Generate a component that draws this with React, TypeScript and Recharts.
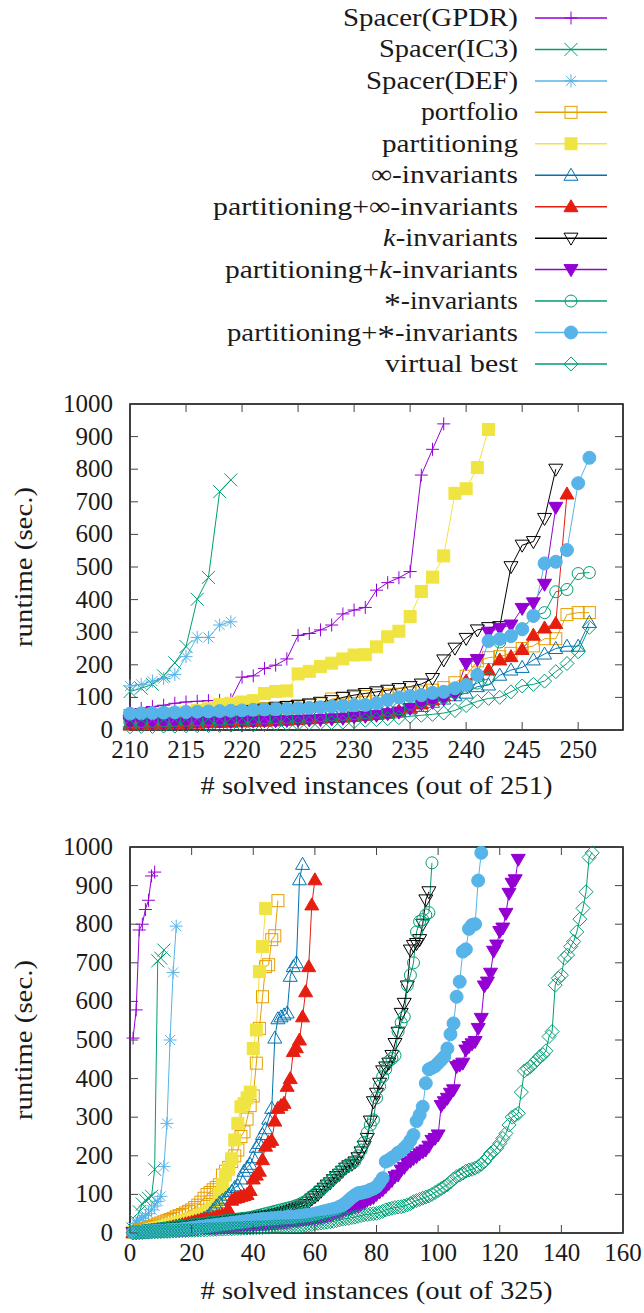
import React from 'react';
import { LineChart, Line, XAxis, YAxis, ReferenceArea } from 'recharts';

// gnuplot-ish look: serif text, inward ticks on all four sides, framed plot
const FONT = 'Liberation Serif, serif';
const TEXT = '#1a1a1a';
const TICK = '#444';

// ---- top plot (# solved out of 251), values start at x = 210 ----
const TOP_START = 210;
const TOP_X_TICKS = [210, 215, 220, 225, 230, 235, 240, 245, 250];
const Y_TICKS = [0, 100, 200, 300, 400, 500, 600, 700, 800, 900, 1000];

const gpdrTop = [62, 66, 72, 76, 82, 86, 88, 90, 91, 93, 162, 166, 189, 199, 218, 290, 296, 307, 322, 356, 368, 376, 429, 452, 467, 486, 782, 861, 939];
const ic3Top = [118, 128, 140, 166, 206, 256, 401, 468, 731, 767];
const defTop = [135, 140, 150, 158, 170, 225, 284, 284, 322, 332];
const portfolioTop = [
  38, 42, 45, 48, 50, 52, 54, 56, 58, 60,
  62, 64, 66, 68, 70, 72, 75, 80, 95, 98,
  100, 103, 106, 108, 110, 113, 117, 122, 130, 145,
  165, 212, 222, 225, 235, 250, 258, 280, 280, 354, 360, 360,
];
const partTop = [
  42, 44, 46, 48, 50, 55, 60, 65, 78, 82,
  86, 90, 112, 118, 120, 172, 180, 195, 205, 218,
  230, 231, 255, 286, 303, 348, 425, 469, 534, 726,
  740, 805, 922,
];
const infTop = [
  18, 19, 20, 21, 22, 23, 24, 25, 26, 27,
  28, 29, 30, 32, 34, 36, 38, 40, 42, 44,
  46, 48, 50, 53, 58, 65, 72, 85, 95, 105,
  113, 133, 138, 168, 184, 192, 215, 233, 250, 257, 257, 330,
];
const partInfTop = [
  15, 16, 17, 18, 19, 20, 21, 22, 23, 24,
  25, 26, 27, 28, 30, 32, 34, 36, 38, 40,
  42, 45, 48, 52, 58, 68, 80, 92, 105, 125,
  150, 170, 184, 215, 225, 247, 291, 313, 327, 724,
];
const kTop = [
  30, 32, 34, 36, 38, 40, 43, 46, 49, 52,
  56, 60, 64, 68, 72, 76, 80, 85, 90, 100,
  107, 112, 117, 122, 127, 133, 141, 158, 215, 251,
  281, 307, 314, 317, 501, 567, 578, 649, 800,
];
const partKTop = [
  22, 22, 23, 23, 24, 24, 25, 25, 26, 26,
  27, 27, 28, 28, 29, 30, 31, 32, 34, 36,
  40, 42, 45, 50, 55, 66, 80, 85, 95, 110,
  204, 216, 300, 312, 322, 373, 390, 447, 683,
];
const starTop = [
  25, 26, 27, 28, 29, 30, 31, 32, 33, 34,
  35, 36, 37, 38, 39, 40, 42, 44, 46, 48,
  50, 53, 56, 60, 65, 80, 88, 95, 100, 115,
  130, 144, 158, 270, 290, 310, 350, 360, 424, 431, 480, 483,
];
const partStarTop = [
  50, 51, 52, 53, 54, 55, 56, 57, 58, 59,
  60, 62, 63, 64, 65, 67, 68, 70, 72, 74,
  76, 77, 82, 92, 100, 104, 107, 114, 117, 128,
  138, 169, 273, 279, 288, 309, 350, 511, 516, 552, 757, 835,
];
const bestTop = [
  10, 11, 11, 12, 12, 13, 13, 14, 14, 15,
  15, 16, 17, 18, 19, 20, 21, 22, 23, 24,
  26, 30, 32, 35, 38, 42, 45, 48, 52, 60,
  75, 88, 97, 100, 117, 135, 140, 150, 179, 204, 240, 315,
];

// ---- bottom plot (# solved out of 325), values start at x = 1 ----
const BOT_START = 1;
const BOT_X_TICKS = [0, 20, 40, 60, 80, 100, 120, 140, 160];

const gpdrBot = [505, 578, 785, 800, 838, 862, 925, 935];
const ic3Bot = [10, 30, 55, 75, 85, 90, 95, 165, 705, 712, 733];
const defBot = [15, 25, 32, 38, 45, 50, 60, 70, 82, 95, 172, 284, 500, 675, 795];
const portfolioBot = [
  2, 4, 6, 9, 11, 14, 17, 20, 23, 26,
  29, 32, 35, 38, 42, 45, 48, 52, 56, 60,
  66, 72, 80, 90, 100, 105, 112, 118, 125, 150,
  160, 170, 185, 200, 215, 250, 262, 295, 330, 355,
  440, 530, 612, 690, 695, 760, 770, 861,
];
const partBot = [
  1, 2, 3, 4, 5, 7, 9, 11, 13, 15,
  17, 19, 21, 23, 25, 27, 29, 31, 34, 37,
  40, 43, 46, 50, 54, 58, 63, 70, 100, 125,
  150, 165, 192, 241, 284, 327, 335, 350, 365, 478,
  526, 677, 742, 841,
];
const infBot = [
  1, 2, 3, 4, 5, 6, 7, 8, 9, 10,
  11, 12, 13, 14, 15, 17, 19, 21, 23, 25,
  28, 31, 34, 38, 42, 50, 60, 70, 78, 85,
  90, 98, 108, 118, 122, 140, 160, 170, 178, 195,
  222, 232, 255, 270, 295, 323, 505, 555, 560, 565,
  570, 665, 690, 700, 915, 955,
];
const partInfBot = [
  1, 1, 2, 2, 3, 4, 5, 6, 7, 8,
  10, 12, 14, 16, 18, 20, 22, 24, 26, 28,
  30, 32, 34, 35, 36, 38, 40, 42, 45, 47,
  50, 60, 85, 90, 92, 95, 97, 100, 110, 140,
  150, 160, 190, 225, 235, 240, 290, 323, 330, 336,
  380, 400, 470, 480, 500, 560, 625, 690, 850, 915,
];
const kBot = [
  1, 2, 3, 4, 5, 6, 7, 8, 9, 10,
  11, 12, 13, 14, 15, 16, 17, 18, 19, 20,
  21, 22, 23, 24, 25, 26, 27, 28, 29, 30,
  31, 32, 33, 34, 35, 36, 37, 38, 39, 40,
  41, 42, 43, 44, 45, 46, 48, 50, 52, 54,
  56, 58, 61, 64, 67, 70, 74, 80, 88, 94,
  100, 108, 116, 124, 130, 138, 146, 152, 160, 168,
  174, 178, 184, 195, 210, 225, 245, 290, 340, 362,
  388, 420, 430, 440, 460, 491, 520, 569, 595, 640,
  733, 745, 750, 760, 800, 863, 884,
];
const starBot = [
  2, 3, 4, 5, 6, 7, 8, 9, 10, 11,
  12, 13, 14, 15, 16, 17, 18, 19, 20, 21,
  22, 23, 24, 25, 26, 27, 28, 29, 30, 31,
  32, 33, 34, 35, 36, 37, 38, 39, 40, 42,
  44, 46, 48, 50, 52, 54, 56, 58, 60, 62,
  64, 66, 68, 71, 74, 78, 82, 88, 95, 100,
  108, 112, 120, 128, 135, 142, 150, 158, 165, 172,
  176, 180, 186, 200, 215, 235, 260, 280, 293, 350,
  380, 405, 425, 445, 452, 460, 522, 545, 560, 642,
  668, 700, 780, 807, 812, 824, 830, 959,
];
const partStarBot = [
  1, 2, 2, 3, 3, 4, 4, 5, 5, 6,
  6, 7, 7, 8, 8, 9, 10, 11, 12, 13,
  14, 15, 16, 17, 18, 19, 20, 21, 22, 23,
  24, 25, 26, 27, 28, 29, 30, 31, 32, 33,
  34, 35, 36, 36, 37, 38, 38, 39, 40, 40,
  41, 42, 42, 43, 44, 45, 46, 47, 48, 50,
  52, 54, 56, 58, 60, 62, 64, 68, 72, 78,
  85, 92, 98, 103, 104, 106, 108, 112, 115, 120,
  130, 142, 185, 189, 195, 200, 208, 212, 220, 228,
  240, 254, 290, 306, 327, 388, 424, 428, 432, 440,
  448, 457, 478, 515, 543, 612, 651, 729, 735, 788,
  798, 800, 913, 985,
];
const partKBot = [
  1, 1, 2, 2, 3, 3, 4, 4, 5, 5,
  6, 6, 7, 7, 8, 8, 9, 9, 10, 10,
  11, 11, 12, 12, 13, 13, 14, 14, 15, 15,
  16, 16, 17, 17, 18, 18, 19, 19, 20, 20,
  21, 21, 22, 22, 23, 24, 25, 26, 27, 28,
  29, 30, 31, 32, 33, 34, 35, 36, 37, 38,
  39, 40, 42, 44, 46, 50, 52, 54, 56, 60,
  62, 65, 68, 70, 74, 78, 85, 88, 92, 100,
  106, 112, 120, 128, 136, 146, 150, 163, 170, 180,
  186, 193, 198, 205, 210, 215, 225, 240, 245, 254,
  330, 340, 349, 362, 371, 431, 435, 440, 474, 483,
  490, 496, 530, 556, 640, 650, 673, 730, 746, 781,
  790, 828, 880, 906, 915, 968,
];
const bestBot = [
  0.5, 1, 1, 1.5, 2, 2, 2.5, 3, 3, 3.5,
  4, 4, 4.5, 5, 5, 5.5, 6, 6, 6.5, 7,
  7, 7.5, 8, 8, 8.5, 9, 9, 9.5, 10, 10,
  10.5, 11, 11, 11.5, 12, 12, 12.5, 13, 13, 13.5,
  14, 14, 14.5, 15, 15, 15.5, 16, 16, 16.5, 17,
  17, 17.5, 18, 18, 18, 19, 20, 21, 22, 24,
  25, 26, 27, 28, 29, 30, 32, 34, 36, 37,
  38, 40, 41, 43, 45, 47, 48, 49, 50, 51,
  53, 56, 60, 62, 64, 66, 67, 68, 70, 73,
  76, 81, 84, 87, 90, 93, 96, 100, 105, 110,
  115, 120, 125, 132, 140, 146, 150, 155, 160, 163,
  165, 168, 172, 178, 185, 195, 206, 212, 220, 232,
  245, 258, 280, 300, 305, 310, 365, 420, 425, 431,
  440, 448, 457, 462, 472, 509, 522, 642, 660, 668,
  712, 720, 742, 755, 780, 813, 841, 884, 973, 985,
];

// label pieces: [text, style] where style 'i' = italic k, 'a' = centred asterisk
type Part = [string, ('i' | 'a')?];

const SERIES: { key: string; label: Part[]; color: string; marker: string; top: number[]; bot: number[] }[] = [
  { key: 'gpdr', label: [['Spacer(GPDR)']], color: '#9400d3', marker: 'plus', top: gpdrTop, bot: gpdrBot },
  { key: 'ic3', label: [['Spacer(IC3)']], color: '#009e73', marker: 'cross', top: ic3Top, bot: ic3Bot },
  { key: 'def', label: [['Spacer(DEF)']], color: '#56b4e9', marker: 'star', top: defTop, bot: defBot },
  { key: 'portfolio', label: [['portfolio']], color: '#e69f00', marker: 'square', top: portfolioTop, bot: portfolioBot },
  { key: 'part', label: [['partitioning']], color: '#f0e442', marker: 'squareFilled', top: partTop, bot: partBot },
  { key: 'inf', label: [['∞-invariants']], color: '#0072b2', marker: 'triUp', top: infTop, bot: infBot },
  { key: 'partInf', label: [['partitioning+∞-invariants']], color: '#e51e10', marker: 'triUpFilled', top: partInfTop, bot: partInfBot },
  { key: 'k', label: [['k', 'i'], ['-invariants']], color: '#000000', marker: 'triDown', top: kTop, bot: kBot },
  { key: 'partK', label: [['partitioning+'], ['k', 'i'], ['-invariants']], color: '#9400d3', marker: 'triDownFilled', top: partKTop, bot: partKBot },
  { key: 'star', label: [['*', 'a'], ['-invariants']], color: '#009e73', marker: 'circle', top: starTop, bot: starBot },
  { key: 'partStar', label: [['partitioning+'], ['*', 'a'], ['-invariants']], color: '#56b4e9', marker: 'circleFilled', top: partStarTop, bot: partStarBot },
  { key: 'best', label: [['virtual best']], color: '#009e73', marker: 'diamond', top: bestTop, bot: bestBot },
];

// measured text widths of the legend labels (px)
const LEGEND_TEXT_W = [175, 139, 152, 97, 136, 147, 305, 135, 293, 134, 291, 133];

const toPoints = (start: number, vals: number[]) => vals.map((y, i) => ({ x: start + i, y }));

function Marker({ kind, cx, cy, color }: { kind: string; cx?: number; cy?: number; color: string }) {
  if (cx == null || cy == null || Number.isNaN(cx) || Number.isNaN(cy)) return <g />;
  const s = 6.5;
  const common = { stroke: color, strokeWidth: 1 };
  switch (kind) {
    case 'plus':
      return <path d={`M${cx - s},${cy}H${cx + s}M${cx},${cy - s}V${cy + s}`} fill="none" {...common} />;
    case 'cross':
      return <path d={`M${cx - s},${cy - s}L${cx + s},${cy + s}M${cx - s},${cy + s}L${cx + s},${cy - s}`} fill="none" {...common} />;
    case 'star':
      return (
        <path
          d={`M${cx - s},${cy}H${cx + s}M${cx},${cy - s}V${cy + s}M${cx - 5},${cy - 5}L${cx + 5},${cy + 5}M${cx - 5},${cy + 5}L${cx + 5},${cy - 5}`}
          fill="none"
          {...common}
        />
      );
    case 'square':
      return <rect x={cx - 6} y={cy - 6} width={12} height={12} fill="none" {...common} />;
    case 'squareFilled':
      return <rect x={cx - 6} y={cy - 6} width={12} height={12} fill={color} stroke={color} />;
    case 'triUp':
      return <path d={`M${cx},${cy - 7}L${cx + 7},${cy + 5}L${cx - 7},${cy + 5}Z`} fill="none" {...common} />;
    case 'triUpFilled':
      return <path d={`M${cx},${cy - 7}L${cx + 7},${cy + 5}L${cx - 7},${cy + 5}Z`} fill={color} stroke={color} />;
    case 'triDown':
      return <path d={`M${cx},${cy + 7}L${cx + 7},${cy - 5}L${cx - 7},${cy - 5}Z`} fill="none" {...common} />;
    case 'triDownFilled':
      return <path d={`M${cx},${cy + 7}L${cx + 7},${cy - 5}L${cx - 7},${cy - 5}Z`} fill={color} stroke={color} />;
    case 'circle':
      return <circle cx={cx} cy={cy} r={6} fill="none" {...common} />;
    case 'circleFilled':
      return <circle cx={cx} cy={cy} r={6.5} fill={color} stroke={color} />;
    case 'diamond':
      return <path d={`M${cx},${cy - 7}L${cx + 7},${cy}L${cx},${cy + 7}L${cx - 7},${cy}Z`} fill="none" {...common} />;
    default:
      return <g />;
  }
}

const ASTERISK_DROP = 6;

const renderLabel = (parts: Part[]) => {
  let shifted = false;
  return parts.map(([t, st], i) => {
    let dy: number | undefined;
    if (st === 'a') {
      dy = ASTERISK_DROP;
      shifted = true;
    } else if (shifted) {
      dy = -ASTERISK_DROP;
      shifted = false;
    }
    return (
      <tspan key={i} dy={dy} fontSize={st === 'a' ? 32 : undefined} fontStyle={st === 'i' ? 'italic' : 'normal'}>
        {t}
      </tspan>
    );
  });
};

function LegendBlock() {
  return (
    <svg width={644} height={380} style={{ position: 'absolute', left: 0, top: 0 }}>
      {SERIES.map((s, i) => {
        const cy = 18 + i * 31.45;
        return (
          <g key={s.key}>
            <text
              x={518}
              y={cy + 8}
              textAnchor="end"
              textLength={LEGEND_TEXT_W[i]}
              lengthAdjust="spacingAndGlyphs"
              fontFamily={FONT}
              fontSize={26}
              fill={TEXT}
            >
              {renderLabel(s.label)}
            </text>
            <line x1={535} x2={607} y1={cy} y2={cy} stroke={s.color} strokeWidth={1.5} />
            <Marker kind={s.marker} cx={571} cy={cy} color={s.color} />
          </g>
        );
      })}
    </svg>
  );
}

const PLOT_TOP = 24;
const PLOT_RIGHT = 623;
const TICK_LEN = 8;

const xTick = (props: any) => {
  const { x, y, payload } = props;
  return (
    <g>
      <line x1={x} x2={x} y1={y} y2={y - TICK_LEN} stroke={TICK} />
      <line x1={x} x2={x} y1={PLOT_TOP} y2={PLOT_TOP + TICK_LEN} stroke={TICK} />
      <text x={x} y={y + 28} textAnchor="middle" fontFamily={FONT} fontSize={25} fill={TEXT}>
        {payload.value}
      </text>
    </g>
  );
};

const yTick = (props: any) => {
  const { x, y, payload } = props;
  return (
    <g>
      <line x1={x} x2={x + TICK_LEN} y1={y} y2={y} stroke={TICK} />
      <line x1={PLOT_RIGHT - TICK_LEN} x2={PLOT_RIGHT} y1={y} y2={y} stroke={TICK} />
      <text x={x - 17} y={y + 8} textAnchor="end" fontFamily={FONT} fontSize={25} fill={TEXT}>
        {payload.value}
      </text>
    </g>
  );
};

const xTitle = (text: string, offset: number) => (props: any) => {
  const vb = props.viewBox || {};
  return (
    <text
      x={vb.x + vb.width / 2}
      y={vb.y + offset}
      textAnchor="middle"
      textLength={352}
      lengthAdjust="spacingAndGlyphs"
      fontFamily={FONT}
      fontSize={26}
      fill={TEXT}
    >
      {text}
    </text>
  );
};

const yTitle = (props: any) => {
  const vb = props.viewBox || {};
  const cy = vb.y + vb.height / 2;
  return (
    <text
      x={32}
      y={cy}
      transform={`rotate(-90, 32, ${cy})`}
      textAnchor="middle"
      textLength={160}
      lengthAdjust="spacingAndGlyphs"
      fontFamily={FONT}
      fontSize={26}
      fill={TEXT}
    >
      runtime (sec.)
    </text>
  );
};

function Plot({
  which,
  height,
  axisHeight,
  xDomain,
  xTicks,
  title,
  titleOffset,
}: {
  which: 'top' | 'bot';
  height: number;
  axisHeight: number;
  xDomain: [number, number];
  xTicks: number[];
  title: string;
  titleOffset: number;
}) {
  const start = which === 'top' ? TOP_START : BOT_START;
  return (
    <LineChart width={644} height={height} margin={{ top: PLOT_TOP, right: 644 - PLOT_RIGHT, bottom: 0, left: 0 }}>
      <XAxis
        dataKey="x"
        type="number"
        domain={xDomain}
        ticks={xTicks}
        interval={0}
        height={axisHeight}
        tickSize={0}
        tickMargin={0}
        tickLine={false}
        axisLine={false}
        tick={xTick}
        label={{ content: xTitle(title, titleOffset) }}
      />
      <YAxis
        type="number"
        domain={[0, 1000]}
        ticks={Y_TICKS}
        interval={0}
        width={130}
        tickSize={0}
        tickMargin={0}
        tickLine={false}
        axisLine={false}
        tick={yTick}
        label={{ content: yTitle }}
      />
      <ReferenceArea
        x1={xDomain[0]}
        x2={xDomain[1]}
        y1={0}
        y2={1000}
        fill="none"
        fillOpacity={0}
        stroke="#000"
        strokeWidth={1.5}
        ifOverflow="visible"
      />
      {SERIES.map((s) => (
        <Line
          key={s.key}
          data={toPoints(start, which === 'top' ? s.top : s.bot)}
          dataKey="y"
          type="linear"
          stroke={s.color}
          strokeWidth={1}
          isAnimationActive={false}
          activeDot={false}
          dot={(p: any) => <Marker key={`${s.key}-${p.index}`} kind={s.marker} cx={p.cx} cy={p.cy} color={s.color} />}
        />
      ))}
    </LineChart>
  );
}

export default function App() {
  return (
    <div style={{ position: 'absolute', left: 0, top: 0, width: 644, height: 1313, background: '#fff', overflow: 'hidden' }}>
      <LegendBlock />
      <div style={{ position: 'absolute', left: 0, top: 380 }}>
        <Plot
          which="top"
          height={430}
          axisHeight={80}
          xDomain={[210, 254]}
          xTicks={TOP_X_TICKS}
          title="# solved instances (out of 251)"
          titleOffset={64}
        />
      </div>
      <div style={{ position: 'absolute', left: 0, top: 823 }}>
        <Plot
          which="bot"
          height={490}
          axisHeight={80}
          xDomain={[0, 160]}
          xTicks={BOT_X_TICKS}
          title="# solved instances (out of 325)"
          titleOffset={66}
        />
      </div>
    </div>
  );
}
